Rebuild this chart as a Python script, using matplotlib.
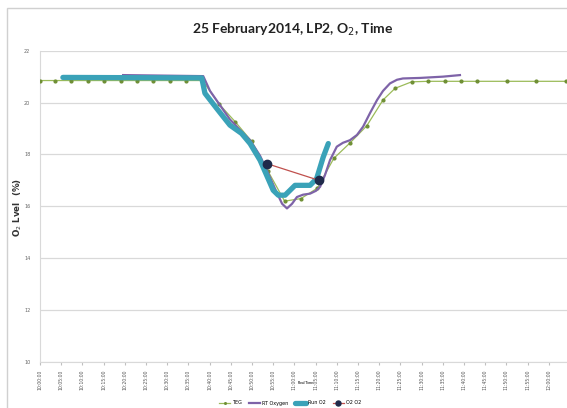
import matplotlib
matplotlib.use("Agg")
import matplotlib.pyplot as plt
from matplotlib.patches import Rectangle

# ---- data (x in tick-interval units, y in % O2) ----
tick_labels = ["10:00:00", "10:05:00", "10:10:00", "10:15:00", "10:20:00",
               "10:25:00", "10:30:00", "10:35:00", "10:40:00", "10:45:00",
               "10:50:00", "10:55:00", "11:00:00", "11:05:00", "11:10:00",
               "11:15:00", "11:20:00", "11:25:00", "11:30:00", "11:35:00",
               "11:40:00", "11:45:00", "11:50:00", "11:55:00", "12:00:00"]

teg_x = [0, 0.71, 1.48, 2.25, 3.03, 3.80, 4.58, 5.35, 6.12, 6.90, 7.67,
         8.44, 9.22, 9.99, 10.76, 11.54, 12.31, 13.08, 13.86, 14.63, 15.41,
         16.18, 16.75, 17.53, 18.32, 19.10, 19.87, 20.61, 22.03, 23.40, 24.81]
teg_y = [20.85, 20.85, 20.85, 20.85, 20.85, 20.85, 20.85, 20.85, 20.85, 20.85, 20.85,
         19.95, 19.25, 18.5, 17.35, 16.2, 16.3, 16.7, 17.85, 18.45, 19.1,
         20.1, 20.55, 20.8, 20.82, 20.82, 20.82, 20.82, 20.82, 20.82, 20.82]

rt_x = [3.92, 7.70, 8.02, 8.49, 8.96, 9.43, 9.91, 10.38, 10.75, 11.13, 11.42,
        11.65, 11.89, 12.12, 12.41, 12.74, 13.02, 13.21, 13.44, 13.68, 14.00,
        14.29, 14.62, 14.95, 15.24, 15.57, 15.90, 16.18, 16.51, 16.84, 17.12,
        17.92, 19.01, 19.81]
rt_y = [21.06, 21.02, 20.45, 19.9, 19.35, 18.95, 18.55, 17.95, 17.3, 16.6, 16.1,
        15.92, 16.1, 16.36, 16.45, 16.49, 16.6, 16.75, 17.2, 17.78, 18.3,
        18.45, 18.55, 18.75, 19.07, 19.6, 20.1, 20.45, 20.74, 20.88, 20.93,
        20.95, 21.0, 21.06]

run_x = [1.08, 7.63, 7.78, 8.33, 8.96, 9.51, 9.91, 10.38, 10.69, 11.0, 11.24,
         11.56, 12.03, 12.74, 13.05, 13.36, 13.60]
run_y = [20.97, 20.95, 20.36, 19.78, 19.13, 18.81, 18.42, 17.78, 17.2, 16.62, 16.43,
         16.43, 16.81, 16.81, 17.07, 17.9, 18.42]

o2_x = [10.69, 13.17]
o2_y = [17.65, 17.0]

series_names = ["TEG", "RT Oxygen", "Run O2", "O2 O2"]

# ---- figure ----
W, H = 567, 408
fig = plt.figure(figsize=(W / 100, H / 100), dpi=100)
fig.patch.set_facecolor("white")

# chart-area border
fig.patches.append(Rectangle((7 / W, -0.1), 1.2, 1 - 8 / H + 0.1, transform=fig.transFigure,
                             fill=False, edgecolor="#D0D0D0", linewidth=1.0))

ax_left, ax_right = 40 / W, 566.8 / W
ax_bottom, ax_top = 1 - 362 / H, 1 - 50.7 / H
ax = fig.add_axes([ax_left, ax_bottom, ax_right - ax_left, ax_top - ax_bottom])

ax.plot(teg_x, teg_y, color="#9BBB59", lw=0.9, marker="o", ms=2.0,
        mfc="#6F8F35", mec="#6F8F35", label=series_names[0], zorder=3)
ax.plot(run_x, run_y, color="#3AA2B8", lw=3.8, solid_joinstyle="round",
        solid_capstyle="round", label=series_names[2], zorder=4)
ax.plot(rt_x, rt_y, color="#7E63A8", lw=1.6, label=series_names[1], zorder=3.5)
ax.plot(o2_x, o2_y, color="#C0504D", lw=0.9, marker="o", ms=6,
        mfc="#1F2A4A", mec="#1F2A4A", label=series_names[3], zorder=5)

ax.set_ylim(10, 22)
ax.set_xlim(0, 24.85)
ax.set_yticks(range(10, 23, 2))
ax.set_yticklabels([str(v) for v in range(10, 23, 2)], fontsize=3.5, color="#666666")
ax.set_xticks(range(len(tick_labels)))
ax.set_xticklabels(tick_labels, rotation=90, fontsize=3.3, color="#555555")
ax.tick_params(axis="x", length=2.5, color="#BFBFBF", pad=3)
ax.tick_params(axis="y", length=0, pad=7)
ax.grid(axis="y", color="#D9D9D9", lw=0.9)
ax.set_axisbelow(True)
for s in ["top", "right"]:
    ax.spines[s].set_visible(False)
ax.spines["left"].set_color("#D9D9D9")
ax.spines["bottom"].set_color("#D9D9D9")

fig.text(293 / W, 1 - 30 / H, "25 February2014, LP2, O$_2$, Time", ha="center", va="center",
         fontsize=10, fontweight="bold", family="Lato", color="#222222")
fig.text(18 / W, 1 - 207 / H, "O$_2$ Lvel  (%)", rotation=90, ha="center", va="center",
         fontsize=6.3, fontweight="bold", color="#333333")
fig.text(305 / W, 1 - 383 / H, "Real Time", ha="center", va="center",
         fontsize=2.4, fontweight="bold", family="Lato", color="#222222")

handles, labels = ax.get_legend_handles_labels()
order = [labels.index(n) for n in series_names]
fig.legend([handles[i] for i in order], [labels[i] for i in order],
           loc="center", bbox_to_anchor=(290 / W, 1 - 403 / H), ncol=4, frameon=False,
           fontsize=3.5, handlelength=2.2, columnspacing=1.5, handletextpad=0.4,
           markerscale=0.6)

fig.savefig("out.png", dpi=100, facecolor="white")
